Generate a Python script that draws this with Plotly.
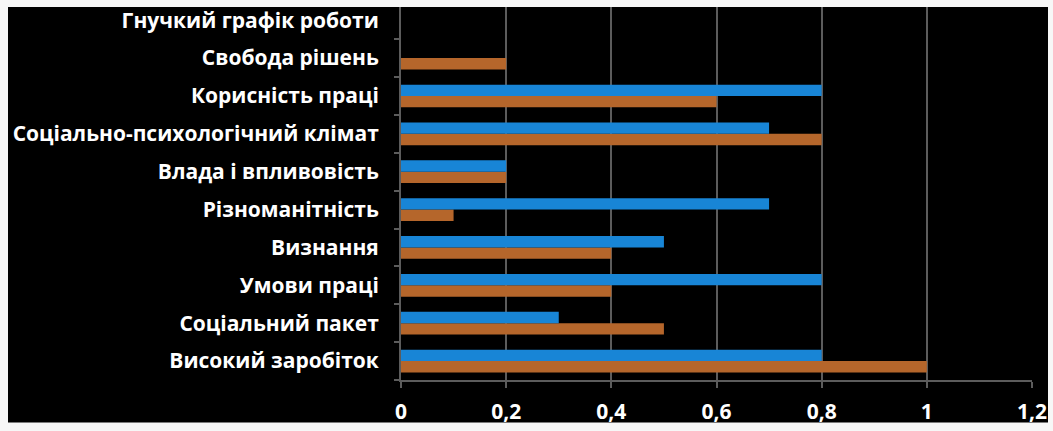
import plotly.graph_objects as go

# Категорії мотиваторів (знизу вгору)
categories = [
    "Високий заробіток",
    "Соціальний пакет",
    "Умови праці",
    "Визнання",
    "Різноманітність",
    "Влада і впливовість",
    "Соціально-психологічний клімат",
    "Корисність праці",
    "Свобода рішень",
    "Гнучкий графік роботи",
]
series_blue = [0.8, 0.3, 0.8, 0.5, 0.7, 0.2, 0.7, 0.8, 0.0, 0.0]
series_brown = [1.0, 0.5, 0.4, 0.4, 0.1, 0.2, 0.8, 0.6, 0.2, 0.0]
x_tickvals = [0, 0.2, 0.4, 0.6, 0.8, 1.0, 1.2]
x_ticktext = ["0", "0,2", "0,4", "0,6", "0,8", "1", "1,2"]

BLUE = "#1885d6"
BROWN = "#b5662b"
GRID = "#5c5c5c"
FONT = "Open Sans"

fig = go.Figure()
fig.add_trace(go.Bar(y=categories, x=series_brown, orientation="h",
                     marker=dict(color=BROWN, line=dict(width=0)), name="B"))
fig.add_trace(go.Bar(y=categories, x=series_blue, orientation="h",
                     marker=dict(color=BLUE, line=dict(width=0)), name="A"))

W, H = 1053, 431
ml, mr, mt, mb = 401, 21, 6, 48
pw, ph = W - ml - mr, H - mt - mb

def px_x(p):
    return (p - ml) / pw

def px_y(p):
    return (H - mb - p) / ph

# чорне тло картки
fig.add_shape(type="rect", xref="paper", yref="paper", layer="below",
              x0=px_x(8), x1=px_x(1048), y0=px_y(426), y1=px_y(6),
              fillcolor="black", line=dict(width=0))

fig.update_layout(
    width=W, height=H,
    margin=dict(l=ml, r=mr, t=mt, b=mb),
    paper_bgcolor="#f7f7f7",
    plot_bgcolor="black",
    barmode="group",
    bargap=0.4,
    bargroupgap=0,
    showlegend=False,
    font=dict(family=FONT, color="white"),
    xaxis=dict(
        range=[0, 1.2],
        tickvals=x_tickvals, ticktext=x_ticktext,
        showgrid=True, gridcolor=GRID, gridwidth=2,
        zeroline=False,
        showline=True, linecolor=GRID, linewidth=2,
        ticks="outside", ticklen=6, tickcolor=GRID, tickwidth=2,
        ticklabelstandoff=6,
        tickfont=dict(family=FONT, size=21, color="white", weight="bold"),
    ),
    yaxis=dict(
        type="category",
        categoryorder="array", categoryarray=categories,
        range=[-0.5, 9.35],
        showgrid=False, zeroline=False,
        showline=True, linecolor=GRID, linewidth=2,
        ticks="outside", ticklen=5, tickcolor=GRID, tickwidth=2,
        tickson="boundaries",
        ticklabelstandoff=16,
        tickfont=dict(family=FONT, size=21, color="white", weight="bold"),
    ),
)

fig.write_html("out.html")
